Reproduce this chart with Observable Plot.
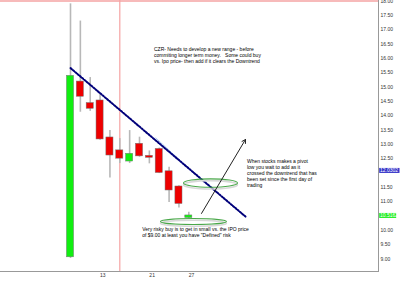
<!DOCTYPE html>
<html><head><meta charset="utf-8">
<script src="https://cdn.jsdelivr.net/npm/d3@7"></script>
<script src="https://cdn.jsdelivr.net/npm/@observablehq/plot@0.6"></script>
<style>
html,body{margin:0;padding:0;background:#fff;}
svg{font-family:"Liberation Sans",Arial,sans-serif;display:block;}
</style></head>
<body><div id="chart"></div>
<script>
// Session index (trading days from IPO) and their day-of-month labels
const dayIndex = [0,1,2,3,4,5,6,7,8,9,10,11,12];
const dayLabels = ["8","9","10","13","14","15","16","17","21","22","23","24","27"];
const openV  = [9.06, 15.19, 14.44, 14.53, 13.24, 12.79, 12.40, 13.02, 12.60, 12.84, 12.06, 11.53, 10.43];
const closeV = [15.39, 14.66, 14.24, 13.17, 12.61, 12.50, 12.67, 12.58, 12.53, 12.00, 11.39, 10.92, 10.52];
const highV  = [17.90, 17.30, 15.33, 14.78, 13.48, 13.20, 13.48, 13.25, 12.77, 12.87, 12.20, 11.56, 10.63];
const lowV   = [9.02, 14.12, 14.15, 13.14, 11.83, 12.33, 12.33, 12.55, 12.32, 11.98, 10.97, 10.78, 10.41];

const xTickIdx = [3, 8, 12];
const yTicks = [9, 9.5, 10, 11, 11.5, 12.5, 13, 13.5, 14, 14.5, 15, 15.5, 16, 16.5, 17, 17.5, 18];
const xDomain = [-7.1, 31.24];
const yDomain = [8.565, 18.017];

const markerDay = [5];
const topLine = [18];

const trendX = [0, 17.75];
const trendY = [15.66, 10.48];
const ghostX = [8.65, 13.2];
const ghostY = [13.22, 11.78];

const ellipseX = [14.2, 12.47];
const ellipseY = [11.65, 10.31];

const arrowFrom = [13.29, 10.59];
const arrowTo = [17.75, 13.17];

const notes = [
  "CZR- Needs to develop a new range - before\ncommiting longer term money.   Some could buy\nvs. Ipo price- then add if it clears the Downtrend",
  "When stocks makes a pivot\nlow you wait to add as it\ncrossed the downtrend that has\nbeen set since the first day of\ntrading",
  "Very risky buy is to get in small vs. the IPO price\nof $9.00 at least you have \"Defined\" risk"
];
const noteX = [8.47, 17.9, 7.27];
const noteY = [16.40, 12.49, 10.14];

const priceTags = ["12.0302", "10.5162"];
const priceTagY = [12.09, 10.52];
const priceTagColor = ["#3434c8", "#22ee22"];

const candles = dayIndex.map((i, k) => ({i, open: openV[k], close: closeV[k], high: highV[k], low: lowV[k]}));
const trend = trendX.map((x, k) => ({x, y: trendY[k]}));
const ghost = ghostX.map((x, k) => ({x, y: ghostY[k]}));
const notesData = notes.map((t, k) => ({t, x: noteX[k], y: noteY[k]}));
const tags = priceTags.map((t, k) => ({t, y: priceTagY[k], c: priceTagColor[k], x: xDomain[1]}));

function ellipseSymbol(rx, ry) {
  const k = 0.5523;
  return {draw(ctx) {
    ctx.moveTo(rx, 0);
    ctx.bezierCurveTo(rx, ry*k, rx*k, ry, 0, ry);
    ctx.bezierCurveTo(-rx*k, ry, -rx, ry*k, -rx, 0);
    ctx.bezierCurveTo(-rx, -ry*k, -rx*k, -ry, 0, -ry);
    ctx.bezierCurveTo(rx*k, -ry, rx, -ry*k, rx, 0);
    ctx.closePath();
  }};
}
function boxSymbol(w, h) {
  return {draw(ctx) {
    ctx.moveTo(0, -h/2); ctx.lineTo(w, -h/2); ctx.lineTo(w, h/2); ctx.lineTo(0, h/2); ctx.closePath();
  }};
}

const e1 = [{x: ellipseX[0], y: ellipseY[0]}];
const e2 = [{x: ellipseX[1], y: ellipseY[1]}];

const chart = Plot.plot({
  width: 400, height: 282,
  marginLeft: 0, marginRight: 22, marginTop: 0, marginBottom: 11,
  x: {type: "linear", domain: xDomain, label: null},
  y: {type: "linear", domain: yDomain, label: null},
  style: {background: "#fff", fontFamily: "Liberation Sans, Arial, sans-serif"},
  marks: [
    Plot.ruleY(topLine, {stroke: "#f5a3a3", strokeWidth: 1.5}),
    Plot.ruleX(markerDay, {stroke: "#f5a3a3", strokeWidth: 1.2}),
    Plot.ruleX(candles, {x: "i", y1: "low", y2: "high", stroke: "#b8b8b8", strokeWidth: 1.6}),
    Plot.rect(candles, {x1: d => d.i - 0.36, x2: d => d.i + 0.36, y1: "open", y2: "close",
      fill: d => d.close >= d.open ? "#11ee11" : "#ee0000", stroke: "#777", strokeWidth: 0.5}),
    Plot.line(ghost, {x: "x", y: "y", stroke: "#a8c8f0", strokeWidth: 1}),
    Plot.line(trend, {x: "x", y: "y", stroke: "#00007a", strokeWidth: 2, strokeDasharray: "1.6,1.4"}),
    Plot.dot(e1, {x: "x", y: "y", dy: 1.8, symbol: ellipseSymbol(27, 4.2), fill: "none", stroke: "#d8d8d8", strokeWidth: 1.6}),
    Plot.dot(e2, {x: "x", y: "y", dy: 1.8, symbol: ellipseSymbol(33, 3), fill: "none", stroke: "#d8d8d8", strokeWidth: 1.6}),
    Plot.dot(e1, {x: "x", y: "y", symbol: ellipseSymbol(27, 4.2), fill: "none", stroke: "#4aa84a", strokeWidth: 1.1}),
    Plot.dot(e2, {x: "x", y: "y", symbol: ellipseSymbol(33, 3), fill: "none", stroke: "#4aa84a", strokeWidth: 1.1}),
    Plot.arrow([{x1: arrowFrom[0], y1: arrowFrom[1], x2: arrowTo[0], y2: arrowTo[1]}],
      {x1: "x1", y1: "y1", x2: "x2", y2: "y2", stroke: "#222", strokeWidth: 1, headLength: 6}),
    Plot.text(notesData, {x: "x", y: "y", text: "t", textAnchor: "start", lineAnchor: "top",
      fontSize: 5, lineHeight: 1.2, fill: "#000"}),
    Plot.frame({anchor: "bottom", stroke: "#999"}),
    Plot.frame({anchor: "right", stroke: "#999"}),
    Plot.axisY(yTicks, {anchor: "right", tickSize: 0, tickPadding: 2, tickFormat: d3.format(".2f"),
      fontSize: 5, fill: "#333", label: null}),
    Plot.axisX(xTickIdx, {anchor: "bottom", tickSize: 0, tickPadding: 2, tickFormat: i => dayLabels[i],
      textAnchor: "start", fontSize: 5, fill: "#333", label: null}),
    Plot.dot(tags.slice(0,1), {x: "x", y: "y", dx: 0.7, symbol: boxSymbol(20.3, 5), fill: priceTagColor[0], stroke: "none"}),
    Plot.dot(tags.slice(1), {x: "x", y: "y", dx: 0.7, symbol: boxSymbol(17, 5), fill: priceTagColor[1], stroke: "none"}),
    Plot.text(tags, {x: "x", y: "y", text: "t", dx: 1.5, textAnchor: "start", fontSize: 5, fill: "#fff"})
  ]
});
document.getElementById("chart").appendChild(chart);
</script>
</body></html>
